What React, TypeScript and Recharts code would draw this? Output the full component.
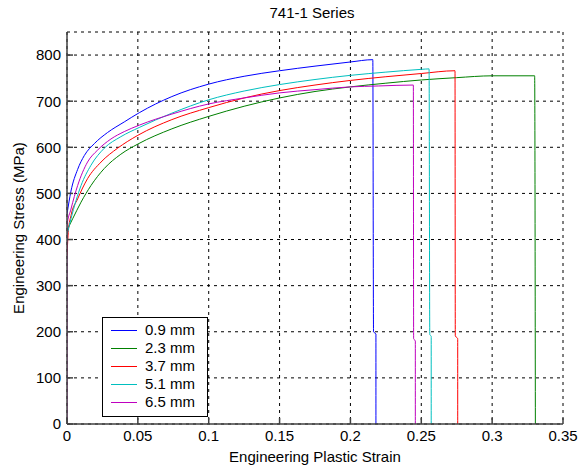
import {
  LineChart,
  Line,
  XAxis,
  YAxis,
  CartesianGrid,
  Legend,
} from "recharts";

// strain / stress for each specimen thickness
const strain09 = [0, 0.0028, 0.0075, 0.0122, 0.0193, 0.0286, 0.0404, 0.051, 0.074, 0.1, 0.125, 0.15, 0.175, 0.2, 0.2158, 0.2163, 0.218, 0.218];
const stress09 = [455, 505, 552, 582, 608, 632, 655, 675, 710, 737, 754, 766, 776, 785, 790, 200, 195, 0];

const strain23 = [0, 0.004, 0.0099, 0.0169, 0.0263, 0.038, 0.05, 0.074, 0.1, 0.125, 0.15, 0.175, 0.2, 0.225, 0.25, 0.275, 0.3, 0.33, 0.3305];
const stress23 = [420, 445, 481, 517, 554, 585, 607, 640, 667, 689, 707, 721, 731, 739, 746, 751, 755, 755, 0];

const strain37 = [0, 0.001, 0.0028, 0.0075, 0.0145, 0.024, 0.0357, 0.05, 0.074, 0.1, 0.125, 0.15, 0.175, 0.2, 0.225, 0.25, 0.2738, 0.274, 0.2757, 0.2757];
const stress37 = [365, 420, 452, 488, 532, 568, 598, 626, 660, 686, 707, 723, 735, 745, 753, 760, 766, 191, 185, 0];

const strain51 = [0, 0.0028, 0.0099, 0.0169, 0.0263, 0.038, 0.051, 0.074, 0.1, 0.125, 0.15, 0.175, 0.2, 0.225, 0.25, 0.2555, 0.256, 0.257, 0.257];
const stress51 = [410, 445, 517, 561, 598, 623, 643, 674, 703, 722, 736, 747, 756, 763, 769, 770, 194, 190, 0];

const strain65 = [0, 0, 0.0028, 0.0075, 0.0145, 0.0216, 0.031, 0.0404, 0.051, 0.074, 0.1, 0.125, 0.15, 0.175, 0.2, 0.22, 0.2444, 0.2446, 0.2458, 0.2458];
const stress65 = [0, 430, 466, 517, 568, 594, 618, 634, 648, 672, 694, 707, 718, 725, 731, 733, 735, 185, 180, 0];

const seriesNames = ["0.9 mm", "2.3 mm", "3.7 mm", "5.1 mm", "6.5 mm"];
const seriesColors = ["#0000ff", "#008000", "#ff0000", "#00bfbf", "#bf00bf"];
const seriesStrain = [strain09, strain23, strain37, strain51, strain65];
const seriesStress = [stress09, stress23, stress37, stress51, stress65];

const xTicks = [0, 0.05, 0.1, 0.15, 0.2, 0.25, 0.3, 0.35];
const yTicks = [0, 100, 200, 300, 400, 500, 600, 700, 800];

const FONT = "Arial, 'Liberation Sans', sans-serif";
const AXIS = "#404040";

const series = seriesNames.map((name, i) => ({
  name,
  color: seriesColors[i],
  data: seriesStrain[i].map((x, j) => ({ x, y: seriesStress[i][j] })),
}));

function LegendBox() {
  return (
    <div
      style={{
        width: 104,
        height: 95,
        border: "1px solid #000",
        background: "#fff",
        paddingTop: 3,
        boxSizing: "content-box",
        fontFamily: FONT,
        fontSize: 15,
        color: "#000",
      }}
    >
      {series.map((s) => (
        <div key={s.name} style={{ height: 18, display: "flex", alignItems: "center" }}>
          <span style={{ display: "inline-block", width: 26, height: 0, borderTop: `1px solid ${s.color}`, marginLeft: 8, marginRight: 8 }} />
          <span style={{ lineHeight: "18px" }}>{s.name}</span>
        </div>
      ))}
    </div>
  );
}

export default function App() {
  return (
    <div style={{ position: "absolute", left: 0, top: 0, width: 579, height: 472, background: "#fff" }}>
      <div
        style={{
          position: "absolute",
          top: 5,
          left: 0,
          width: 624,
          textAlign: "center",
          fontFamily: FONT,
          fontSize: 15,
          lineHeight: "16px",
          color: "#000",
        }}
      >
        741-1 Series
      </div>
      <LineChart width={579} height={472} margin={{ top: 32, right: 16, bottom: 0, left: 0 }}>
        <CartesianGrid stroke="#000" strokeDasharray="3 4" />
        <XAxis
          type="number"
          dataKey="x"
          domain={[0, 0.35]}
          ticks={xTicks}
          allowDataOverflow
          height={48}
          tickSize={-6}
          tickMargin={12}
          stroke={AXIS}
          strokeWidth={1.5}
          tick={{ fill: "#000", fontSize: 15, fontFamily: FONT }}
          label={{
            value: "Engineering Plastic Strain",
            position: "insideBottom",
            offset: 10,
            fill: "#000",
            fontSize: 15,
            fontFamily: FONT,
          }}
        />
        <YAxis
          type="number"
          domain={[0, 850]}
          ticks={yTicks}
          allowDataOverflow
          width={67}
          tickSize={-6}
          tickMargin={12}
          stroke={AXIS}
          strokeWidth={1.5}
          tick={{ fill: "#000", fontSize: 15, fontFamily: FONT }}
          label={{
            value: "Engineering Stress (MPa)",
            angle: -90,
            position: "insideLeft",
            offset: 19,
            fill: "#000",
            fontSize: 15,
            fontFamily: FONT,
            style: { textAnchor: "middle" },
          }}
        />
        <XAxis
          xAxisId="top"
          orientation="top"
          type="number"
          domain={[0, 0.35]}
          ticks={xTicks}
          allowDataOverflow
          height={0}
          tick={false}
          tickSize={-6}
          stroke={AXIS}
          strokeWidth={1.5}
        />
        <YAxis
          yAxisId="right"
          orientation="right"
          type="number"
          domain={[0, 850]}
          ticks={yTicks}
          allowDataOverflow
          width={0}
          tick={false}
          tickSize={-6}
          stroke={AXIS}
          strokeWidth={1.5}
        />
        <Legend
          layout="vertical"
          align="center"
          verticalAlign="middle"
          wrapperStyle={{ left: 102, top: 317, width: 106 }}
          content={() => <LegendBox />}
        />
        {series.map((s) => (
          <Line
            key={s.name}
            data={s.data}
            dataKey="y"
            name={s.name}
            type="monotone"
            stroke={s.color}
            strokeWidth={1}
            dot={false}
            activeDot={false}
            isAnimationActive={false}
          />
        ))}
      </LineChart>
    </div>
  );
}
